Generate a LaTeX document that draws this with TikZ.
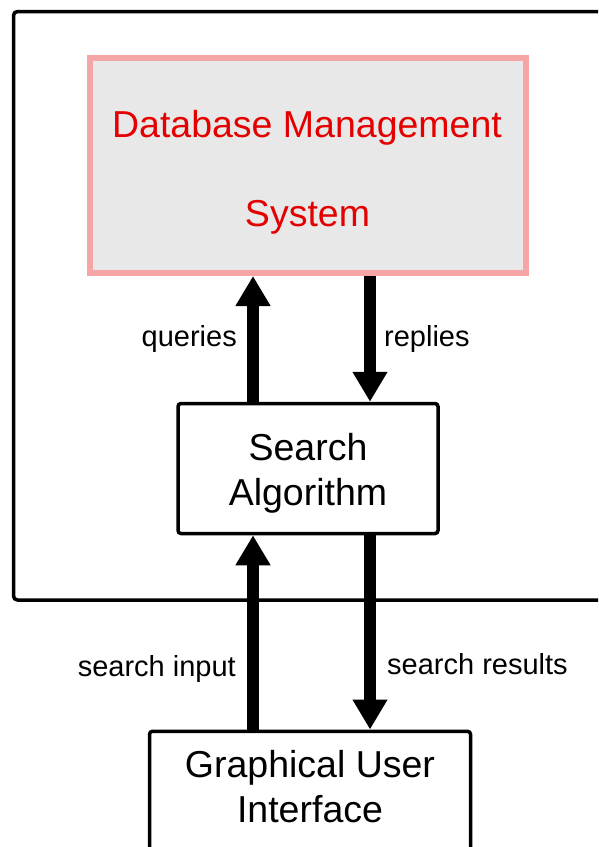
\documentclass[tikz,border=0pt]{standalone}
\usepackage{fontspec}
\setmainfont{Liberation Sans}
\usetikzlibrary{arrows.meta}
\definecolor{pinkborder}{RGB}{245,165,165}
\definecolor{boxgray}{RGB}{232,232,232}
\definecolor{dbred}{RGB}{228,0,0}
\tikzset{
  bigfont/.style={font=\fontsize{37.5}{45}\selectfont},
  labelfont/.style={font=\fontsize{29}{34}\selectfont},
  blackbox/.style={draw=black, line width=3.5pt, rounded corners=3pt, fill=white, inner sep=0pt},
  dbbox/.style={draw=pinkborder, line width=6pt, fill=boxgray, inner sep=0pt},
  bigarrow/.style={line width=12pt, -{Triangle[width=33pt,length=30pt]}},
}
\begin{document}
\begin{tikzpicture}[x=1pt,y=-1pt]
\useasboundingbox (0,0) rectangle (598,847);
\clip (0,0) rectangle (598,847);
\fill[white] (0,0) rectangle (598,847);
% outer frame
\draw[line width=3.5pt, rounded corners=4pt] (640,11.5) -- (13.5,11.5) -- (13.5,600) -- (640,600);
% DBMS
\node[dbbox, minimum width=436pt, minimum height=215pt] (dbms) at (308,165.5) {};
\node[bigfont, text=dbred, anchor=base] (dbt1) at (307,137.5) {Database Management};
\node[bigfont, text=dbred, anchor=base] (dbt2) at (307.5,226) {System};
% Search algorithm
\node[blackbox, minimum width=260pt, minimum height=130pt] (search) at (308,468.5) {};
\node[bigfont, align=center] (searcht) at (308,473) {Search\\Algorithm};
% GUI
\node[blackbox, minimum width=321pt, minimum height=200pt, anchor=north] (gui) at (310,729.5) {};
\node[bigfont, align=center] (guit) at (310,787) {Graphical User\\Interface};
% arrow columns
\coordinate (qx) at (253,0);
\coordinate (rx) at (370,0);
\draw[bigarrow] (search.north -| qx) -- (dbms.south -| qx);
\draw[bigarrow] (dbms.south -| rx) -- (search.north -| rx);
\draw[bigarrow] (gui.north -| qx) -- (search.south -| qx);
\draw[bigarrow] (search.south -| rx) -- (gui.north -| rx);
% labels
\node[labelfont, anchor=base east, inner sep=0pt] (lq) at (237,346) {queries};
\node[labelfont, anchor=base west, inner sep=0pt] (lr) at (384,346) {replies};
\node[labelfont, anchor=base east, inner sep=0pt] (lsi) at (236,676) {search input};
\node[labelfont, anchor=base west, inner sep=0pt] (lsr) at (387,674) {search results};
\end{tikzpicture}
\end{document}
